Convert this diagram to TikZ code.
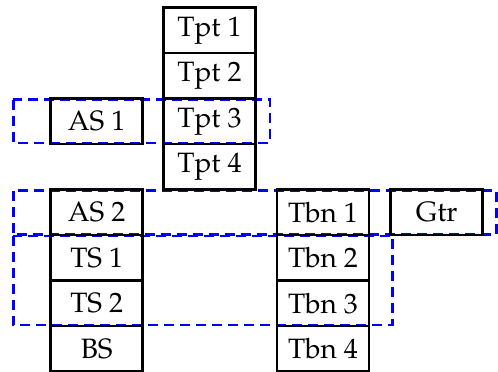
\documentclass[tikz,border=0pt]{standalone}
\usepackage[T1]{fontenc}
\usepackage{mathpazo}
\begin{document}
\begin{tikzpicture}[x=1pt,y=-1pt,
  part/.style={draw=black,line width=2.5pt,minimum width=92pt,minimum height=45.5pt,inner sep=0pt,
    font=\fontsize{28}{30}\selectfont},
  grp/.style={draw=blue,line width=2.5pt,dash pattern=on 10pt off 6pt}]
\useasboundingbox (0,0) rectangle (498,372);
% groups
\draw[grp] (13.3,99.5) rectangle (270,143);
\draw[grp] (13.3,190.5) rectangle (496.5,234.5);
\draw[grp] (13.3,236) rectangle (392.7,325);
% column T
\node[part] (tpt1) at (209.5,30.25) {Tpt 1};
\node[part] (tpt2) at (209.5,75.75) {Tpt 2};
\node[part] (tpt3) at (209.5,121.25) {Tpt 3};
\node[part] (tpt4) at (209.5,166.75) {Tpt 4};
% column A
\node[part] (as1) at (96.7,121.25) {AS 1};
\node[part] (as2) at (96.7,212.25) {AS 2};
\node[part] (ts1) at (96.7,257.75) {TS 1};
\node[part] (ts2) at (96.7,303.25) {TS 2};
\node[part] (bs) at (96.7,348.75) {BS};
% column B
\node[part] (tbn1) at (323,212.25) {Tbn 1};
\node[part] (tbn2) at (323,257.75) {Tbn 2};
\node[part] (tbn3) at (323,303.25) {Tbn 3};
\node[part] (tbn4) at (323,348.75) {Tbn 4};
% column G
\node[part] (gtr) at (436.7,212.25) {Gtr};
\end{tikzpicture}
\end{document}
